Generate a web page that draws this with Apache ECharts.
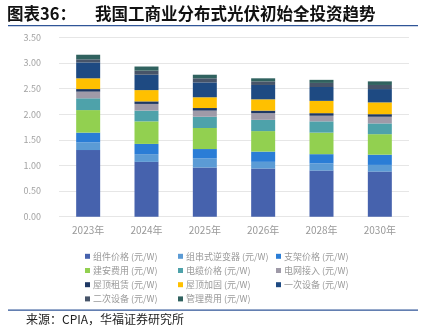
<!DOCTYPE html>
<html>
<head>
<meta charset="utf-8">
<script src="https://cdn.jsdelivr.net/npm/echarts@6/dist/echarts.min.js"></script>
<style>
  html, body { margin: 0; padding: 0; background: #ffffff; }
  #chart { width: 427px; height: 336px; }
</style>
</head>
<body>
<div id="chart"></div>
<script>
// Years on the category axis
const years = ['2023年', '2024年', '2025年', '2026年', '2028年', '2030年'];

// Cost components, yuan per watt, stacked bottom to top
const moduleCost      = [1.30, 1.07, 0.96, 0.94, 0.90, 0.88]; // 组件价格
const inverterCost    = [0.15, 0.15, 0.18, 0.13, 0.14, 0.13]; // 组串式逆变器
const mountCost       = [0.19, 0.20, 0.18, 0.20, 0.18, 0.20]; // 支架价格
const installCost     = [0.44, 0.44, 0.41, 0.40, 0.42, 0.40]; // 建安费用
const cableCost       = [0.23, 0.21, 0.22, 0.22, 0.22, 0.21]; // 电缆价格
const gridAccess      = [0.13, 0.13, 0.12, 0.13, 0.11, 0.13]; // 电网接入
const roofRent        = [0.05, 0.05, 0.05, 0.05, 0.05, 0.05]; // 屋顶租赁
const roofReinforce   = [0.21, 0.22, 0.21, 0.22, 0.24, 0.23]; // 屋顶加固
const primaryEquip    = [0.31, 0.30, 0.29, 0.28, 0.27, 0.26]; // 一次设备
const secondaryEquip  = [0.06, 0.08, 0.08, 0.07, 0.08, 0.08]; // 二次设备
const managementCost  = [0.09, 0.08, 0.07, 0.06, 0.06, 0.07]; // 管理费用

// Value axis ticks
const yMin = 0, yMax = 3.5, yStep = 0.5;

const seriesDefs = [
  { name: '组件价格 (元/W)',     data: moduleCost,     color: '#4662ad' },
  { name: '组串式逆变器 (元/W)', data: inverterCost,   color: '#5b9bd5' },
  { name: '支架价格 (元/W)',     data: mountCost,      color: '#2a7dd6' },
  { name: '建安费用 (元/W)',     data: installCost,    color: '#92d050' },
  { name: '电缆价格 (元/W)',     data: cableCost,      color: '#4ea2aa' },
  { name: '电网接入 (元/W)',     data: gridAccess,     color: '#9f9aa8' },
  { name: '屋顶租赁 (元/W)',     data: roofRent,       color: '#1f3864' },
  { name: '屋顶加固 (元/W)',     data: roofReinforce,  color: '#ffc000' },
  { name: '一次设备 (元/W)',     data: primaryEquip,   color: '#1e4a82' },
  { name: '二次设备 (元/W)',     data: secondaryEquip, color: '#475469' },
  { name: '管理费用 (元/W)',     data: managementCost, color: '#30625f' }
];

const names = seriesDefs.map(s => s.name);
const legendCols = [
  [names[0], names[3], names[6], names[9]],
  [names[1], names[4], names[7], names[10]],
  [names[2], names[5], names[8]]
];
const legendLeft = [80, 173, 271];

const chart = echarts.init(document.getElementById('chart'), null, { renderer: 'canvas' });

const font = '"Noto Sans CJK SC", "Noto Sans", sans-serif';

chart.setOption({
  backgroundColor: '#ffffff',
  animation: false,
  textStyle: { fontFamily: font },
  grid: { left: 59, right: 18, top: 37.3, bottom: 119.3, containLabel: false },
  xAxis: {
    type: 'category',
    data: years,
    axisLine: { show: false },
    axisTick: { show: false },
    axisLabel: { color: '#999999', fontSize: 10, margin: 9, fontFamily: font }
  },
  yAxis: {
    type: 'value',
    min: yMin, max: yMax, interval: yStep,
    axisLine: { show: false },
    axisTick: { show: false },
    splitLine: { lineStyle: { color: '#e6e6e6', width: 1 } },
    axisLabel: {
      color: '#a3a3a3', fontSize: 9, margin: 18, fontFamily: font,
      formatter: v => v.toFixed(2)
    }
  },
  legend: legendCols.map((col, i) => ({
    orient: 'vertical',
    left: legendLeft[i],
    top: 245.3,
    data: col,
    itemWidth: 5,
    itemHeight: 5,
    itemGap: 2.2,
    icon: 'rect',
    selectedMode: false,
    textStyle: { color: '#9a9a9a', fontSize: 9, lineHeight: 12, padding: [0, 0, 0, -2], fontFamily: font }
  })),
  series: seriesDefs.map(s => ({
    name: s.name,
    type: 'bar',
    stack: 'total',
    barWidth: 24,
    data: s.data,
    itemStyle: { color: s.color }
  })),
  graphic: [
    {
      type: 'text', left: 7, top: 5,
      style: { text: '图表36：', fontSize: 16.5, fontWeight: 'bold', fill: '#111', fontFamily: '"Noto Sans CJK SC", serif' }
    },
    {
      type: 'text', left: 95, top: 5,
      style: { text: '我国工商业分布式光伏初始全投资趋势', fontSize: 16.5, fontWeight: 'bold', fill: '#111', fontFamily: '"Noto Sans CJK SC", serif' }
    },
    {
      type: 'rect', shape: { x: 8, y: 25, width: 410, height: 1.2 },
      style: { fill: '#2f5597' }
    },
    {
      type: 'rect', shape: { x: 8, y: 309.5, width: 410, height: 1.2 },
      style: { fill: '#2f5597' }
    },
    {
      type: 'text', left: 26, top: 313,
      style: { text: '来源：CPIA，华福证券研究所', fontSize: 12, fill: '#222', fontFamily: '"Noto Sans CJK SC", serif' }
    }
  ]
});
</script>
</body>
</html>
